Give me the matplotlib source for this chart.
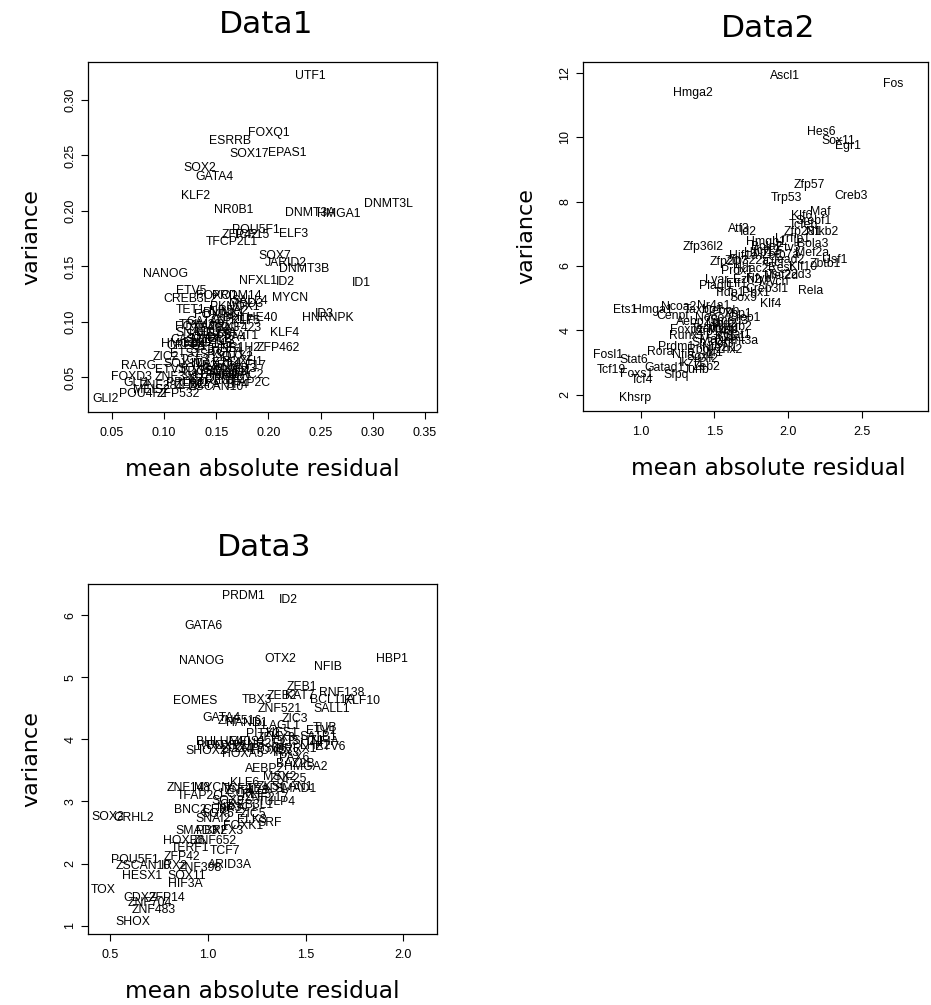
import matplotlib
matplotlib.use("Agg")
import matplotlib.pyplot as plt

# Data1: gene labels with (mean absolute residual, variance)
d1_genes = ["UTF1", "FOXQ1", "ESRRB", "SOX17", "EPAS1", "SOX2", "GATA4", "KLF2", "NR0B1",
            "DNMT3A", "HMGA1", "DNMT3L", "POU5F1", "ZFP42", "TCF15", "ELF3", "TFCP2L1", "SOX7",
            "JARID2", "DNMT3B", "NANOG", "NFXL1", "ID2", "ID1", "ETV5", "MYCN", "CREB3L2",
            "FOXO1", "PRDM14", "SALL4", "TET1", "PKNOX1", "MBD3", "RUNX1", "BHLHE40", "ID3",
            "HNRNPK", "KLF5", "FOXA2", "TBX3", "ZNF423", "KLF4", "ZFP462", "STAT1", "NR1H2",
            "CASZ1", "CREB1", "ZIC2", "RARG", "ETV1", "FOXD3", "GLI1", "ZNF281", "MEIS2",
            "ZEB2", "POU4F2", "ZFP532", "GLI2",
            "SP1", "SP3", "YY1", "MAX", "E2F1", "E2F4", "TCF3", "TCF7L1", "ZNF143", "ZIC3",
            "SALL1", "LIN28A", "DPPA4", "TDGF1", "LEFTY1", "SMAD2", "SMAD3", "CTCF", "REST",
            "MYC", "HDAC2", "SOX3", "SOX11", "ETS1", "ELK1", "TEAD4", "HES1", "OTX2", "FOXH1",
            "KLF17", "ZNF398", "PRDM1", "NFYA", "ZSCAN10", "SP4", "TFAP2C", "GATA6", "FOXP1",
            "ZNF217", "NR5A2", "TRIM28", "SNAI1", "HMGB2", "MYBL2", "TSC22D1", "NFKB1"]
d1_x = [0.240, 0.2005, 0.163, 0.181, 0.2175, 0.134, 0.148, 0.1305, 0.167,
        0.240, 0.267, 0.315, 0.188, 0.173, 0.184, 0.224, 0.165, 0.206,
        0.2165, 0.234, 0.101, 0.190, 0.216, 0.289, 0.126, 0.221, 0.125,
        0.150, 0.170, 0.182, 0.125, 0.168, 0.178, 0.157, 0.182, 0.254,
        0.257, 0.178, 0.130, 0.158, 0.172, 0.215, 0.209, 0.173, 0.173,
        0.125, 0.122, 0.102, 0.075, 0.106, 0.069, 0.074, 0.098, 0.088,
        0.125, 0.080, 0.114, 0.044,
        0.135, 0.145, 0.155, 0.140, 0.150, 0.160, 0.130, 0.165, 0.145, 0.155,
        0.138, 0.150, 0.160, 0.135, 0.150, 0.160, 0.168, 0.140, 0.155,
        0.165, 0.175, 0.128, 0.118, 0.120, 0.132, 0.145, 0.160, 0.170, 0.175,
        0.180, 0.112, 0.122, 0.138, 0.150, 0.170, 0.180, 0.140, 0.148,
        0.165, 0.162, 0.135, 0.128, 0.118, 0.145, 0.158, 0.165]
d1_y = [0.322, 0.270, 0.263, 0.2513, 0.2525, 0.2385, 0.231, 0.2138, 0.201,
        0.198, 0.197, 0.2063, 0.183, 0.1784, 0.1784, 0.179, 0.1718, 0.1595,
        0.153, 0.1477, 0.1432, 0.1369, 0.1358, 0.1349, 0.1282, 0.1219, 0.1205,
        0.1235, 0.1235, 0.119, 0.1108, 0.1138, 0.116, 0.1078, 0.1039, 0.107,
        0.1033, 0.1012, 0.0958, 0.0943, 0.0945, 0.0898, 0.0768, 0.0874, 0.0768,
        0.0838, 0.0787, 0.0682, 0.0604, 0.0568, 0.0502, 0.0453, 0.0423, 0.0387,
        0.0432, 0.0351, 0.0351, 0.0306,
        0.075, 0.070, 0.068, 0.062, 0.060, 0.063, 0.066, 0.072, 0.080, 0.083,
        0.088, 0.090, 0.086, 0.055, 0.052, 0.055, 0.058, 0.049, 0.047,
        0.048, 0.052, 0.058, 0.062, 0.071, 0.081, 0.094, 0.076, 0.068, 0.064,
        0.060, 0.050, 0.045, 0.043, 0.041, 0.043, 0.045, 0.100, 0.106,
        0.102, 0.110, 0.097, 0.090, 0.080, 0.085, 0.056, 0.050]

# Data2
d2_genes = ["Ascl1", "Fos", "Hmga2", "Hes6", "Sox11", "Egr1", "Zfp57", "Trp53", "Creb3",
            "Maf", "Klf6", "Srebf1", "Tcfeb", "Zfp281", "Nfkb2", "Atf3", "Id2", "Zfp36l2",
            "Lrrfip1", "Bola3", "Bola2", "Hbp1", "Mef2a", "Usf1", "Tsc22d3", "Prdx1", "Ezh2",
            "Lyar", "Plagl1", "Creb3l1", "Rela", "Tfdp1", "Sox9", "Klf4", "Ets1", "Hmga1",
            "Ncoa2", "Nr4a1", "Cenpt", "Taxbp1", "Cebpb", "Nono", "Creb1", "Aebp2",
            "Fosl1", "Stat6", "Tcf19", "Foxs1", "Tcf4", "Gatad1", "Junb", "Sfpq", "Khsrp",
            "Rora", "Zeb2", "Nfia", "Sox4", "Prdm1", "Runx1", "Stat1", "Dnmt3a", "Foxp1",
            "Nfe2l1", "Hmgb2", "Mbd2", "Smad3", "Tead1", "Zfp148", "Yy1", "Max", "Sp3",
            "Tcf3", "Rbpj", "Irf1", "Zhx2", "Gli2", "Ikzf1", "Hdac2", "Ctcf", "Rest",
            "Tead2", "Zbtb7a", "Hif1a", "Nfyb", "Mycn", "Elf1", "Pbx1", "Mef2d", "Tcf12",
            "Zfp322a", "Zfp207", "Klf10", "Zbtb1", "Etv5", "Hmgb1", "Xbp1", "Mxd4", "Cux1"]
d2_x = [1.979, 2.714, 1.357, 2.228, 2.341, 2.408, 2.144, 1.990, 2.427,
        2.216, 2.092, 2.170, 2.103, 2.103, 2.230, 1.669, 1.730, 1.425,
        2.030, 2.170, 1.855, 1.798, 2.160, 2.320, 2.010, 1.651, 1.719,
        1.516, 1.516, 1.855, 2.153, 1.606, 1.700, 1.882, 0.893, 1.086,
        1.255, 1.493, 1.221, 1.425, 1.550, 1.470, 1.700, 1.357,
        0.780, 0.950, 0.803, 0.973, 1.007, 1.165, 1.380, 1.244, 0.961,
        1.131, 1.448, 1.289, 1.402, 1.244, 1.312, 1.651, 1.651, 1.312,
        1.538, 1.620, 1.550, 1.600, 1.450, 1.500, 1.580, 1.480, 1.420,
        1.560, 1.400, 1.500, 1.600, 1.450, 1.350, 1.750, 1.900, 1.950,
        2.000, 1.950, 1.700, 1.800, 1.900, 1.650, 1.780, 1.950, 1.850,
        1.720, 1.600, 2.100, 2.250, 2.000, 1.850, 1.660, 1.560, 1.620]
d2_y = [11.91, 11.65, 11.36, 10.17, 9.88, 9.73, 8.52, 8.12, 8.16,
        7.69, 7.56, 7.41, 7.28, 7.04, 7.04, 7.14, 7.05, 6.60,
        6.83, 6.69, 6.59, 6.40, 6.40, 6.20, 5.73, 5.83, 5.57,
        5.57, 5.39, 5.28, 5.21, 5.16, 5.00, 4.83, 4.64, 4.64,
        4.74, 4.77, 4.46, 4.64, 4.60, 4.38, 4.38, 4.25,
        3.25, 3.09, 2.78, 2.66, 2.47, 2.83, 2.78, 2.63, 1.90,
        3.32, 2.88, 3.25, 3.19, 3.50, 3.84, 3.87, 3.66, 4.02,
        3.45, 4.10, 4.20, 4.30, 4.05, 3.95, 3.80, 3.70, 3.60,
        3.58, 3.40, 3.30, 3.40, 3.10, 3.00, 5.90, 6.10, 5.95,
        6.20, 6.35, 6.30, 5.60, 5.50, 5.45, 5.15, 5.70, 6.45,
        6.15, 6.12, 5.98, 6.05, 6.55, 6.75, 4.50, 4.00, 3.75]

# Data3
d3_genes = ["PRDM1", "ID2", "GATA6", "NANOG", "OTX2", "NFIB", "HBP1", "ZEB1", "RNF138",
            "KLF10", "BCL11A", "SALL1", "ZNF521", "TBX3", "ZEB2", "KAT7", "EOMES", "GATA4",
            "ZNF516", "ZIC3", "HAND1", "PLAGL1", "TUB", "ETV1", "PITX2", "HES1", "SATB1",
            "ETV6", "SHOX2", "BHLHE40", "HOXA5", "HOXB7", "IRX3", "PAX6", "BAZ2B", "AEBP2",
            "MSX2", "ZNF25", "ZKSCAN1", "SMAD1", "KLF6", "ZNF148", "MYCN", "TFAP2C", "TULP4",
            "BNC2", "CEBPZ", "ZIC5", "SNAI2", "FOXK1", "ELK3", "SRF", "SMAD3", "PBX2", "RFX3",
            "HOXB6", "ZNF652", "TERF1", "TCF7", "POU5F1", "ZFP42", "ZSCAN10", "IRX2",
            "ARID3A", "ZNF398", "HESX1", "SOX11", "HIF3A", "TOX", "CDX2", "ZFP14", "ZNF704",
            "ZNF483", "SHOX", "SOX2", "GRHL2",
            "KLF5", "ZNF217", "SOX9", "LCOR", "ZNF423", "TEAD1", "FOXP1", "MEIS1", "NR2F2",
            "GLI3", "PRRX1", "TSHZ1", "ZFHX3", "RUNX1", "SOX4", "ZNF536", "LHX2", "NFIA",
            "HMGA2", "TCF4", "CREB3L1", "SOX5", "NR3C1"]
d3_x = [1.181, 1.412, 0.977, 0.969, 1.369, 1.616, 1.940, 1.480, 1.685,
        1.787, 1.634, 1.634, 1.369, 1.250, 1.380, 1.470, 0.935, 1.071,
        1.165, 1.446, 1.199, 1.352, 1.599, 1.580, 1.284, 1.380, 1.565,
        1.625, 0.994, 1.079, 1.181, 1.327, 1.400, 1.440, 1.446, 1.292,
        1.369, 1.410, 1.395, 1.450, 1.190, 0.900, 1.020, 0.960, 1.352,
        0.909, 1.079, 1.233, 1.028, 1.181, 1.224, 1.318, 0.943, 1.020, 1.100,
        0.875, 1.037, 0.909, 1.088, 0.628, 0.867, 0.670, 0.830,
        1.113, 0.960, 0.662, 0.892, 0.883, 0.466, 0.653, 0.790, 0.704,
        0.721, 0.619, 0.491, 0.619,
        1.250, 1.300, 1.100, 1.150, 1.200, 1.300, 1.100, 1.200, 1.300,
        1.400, 1.450, 1.500, 1.350, 1.050, 1.150, 1.250, 1.550, 1.600,
        1.500, 1.150, 1.200, 1.050, 1.150]
d3_y = [6.305, 6.25, 5.83, 5.26, 5.29, 5.17, 5.29, 4.85, 4.75,
        4.62, 4.63, 4.48, 4.48, 4.63, 4.69, 4.69, 4.62, 4.35,
        4.30, 4.32, 4.26, 4.21, 4.19, 4.13, 4.08, 4.10, 4.03,
        3.88, 3.81, 3.96, 3.76, 3.81, 3.78, 3.70, 3.61, 3.53,
        3.40, 3.36, 3.23, 3.20, 3.29, 3.22, 3.22, 3.08, 2.99,
        2.87, 2.86, 2.80, 2.71, 2.61, 2.70, 2.66, 2.52, 2.53, 2.52,
        2.36, 2.36, 2.25, 2.20, 2.06, 2.10, 1.96, 1.96,
        1.98, 1.93, 1.80, 1.80, 1.67, 1.57, 1.45, 1.45, 1.37,
        1.26, 1.06, 2.75, 2.73,
        3.10, 3.05, 3.00, 3.12, 3.17, 3.20, 3.90, 3.95, 3.92,
        3.95, 3.85, 3.98, 4.02, 3.90, 3.85, 3.85, 3.90, 3.95,
        3.55, 3.20, 2.95, 2.80, 2.90]

W, H = 931, 1005
fig = plt.figure(figsize=(W / 100, H / 100), dpi=100)
fig.patch.set_facecolor("white")

GENE_FONT = "Liberation Sans"
TITLE_FONT = "DejaVu Sans"


def panel(box, title, title_xy, xlab_x, genes, xs, ys, xlim, ylim, xticks, xfmt, yticks, yfmt):
    l, t, r, b = box
    ax = fig.add_axes([l / W, 1 - b / H, (r - l) / W, (b - t) / H])
    for g, x, y in zip(genes, xs, ys):
        ax.text(x, y, g, ha="center", va="center", fontsize=8.8, family=GENE_FONT, color="black")
    ax.set_xlim(*xlim)
    ax.set_ylim(*ylim)
    ax.set_xticks(xticks)
    ax.set_xticklabels([xfmt.format(v) for v in xticks], family=GENE_FONT, fontsize=9)
    ax.set_yticks(yticks)
    ax.set_yticklabels([yfmt.format(v) for v in yticks], family=GENE_FONT, fontsize=9,
                       rotation=90, va="center")
    ax.tick_params(axis="x", length=5, width=0.8, pad=6)
    ax.tick_params(axis="y", length=5, width=0.8, pad=3.5)
    for s in ax.spines.values():
        s.set_linewidth(0.9)

    # titles and axis labels placed like the R device output
    fig.text(title_xy[0] / W, 1 - title_xy[1] / H, title, ha="center", va="baseline",
             fontsize=22.5, family=TITLE_FONT)
    fig.text(xlab_x / W, 1 - (b + 64) / H, "mean absolute residual", ha="center",
             va="baseline", fontsize=16.8, family=TITLE_FONT)
    fig.text((l - 51) / W, 1 - ((t + b) / 2) / H, "variance", rotation=90,
             rotation_mode="anchor", ha="center", va="baseline", fontsize=16,
             family=TITLE_FONT)
    return ax


panel((88, 62, 437, 412), "Data1", (266, 33), 262, d1_genes, d1_x, d1_y,
      (0.027, 0.3615), (0.0189, 0.3342),
      [0.05, 0.10, 0.15, 0.20, 0.25, 0.30, 0.35], "{:.2f}",
      [0.05, 0.10, 0.15, 0.20, 0.25, 0.30], "{:.2f}")

panel((583, 62, 928, 411), "Data2", (768, 37), 768, d2_genes, d2_x, d2_y,
      (0.609, 2.95), (1.50, 12.33),
      [1.0, 1.5, 2.0, 2.5], "{:.1f}",
      [2, 4, 6, 8, 10, 12], "{:d}")

panel((88, 584, 437, 934), "Data3", (264, 556), 262, d3_genes, d3_x, d3_y,
      (0.3875, 2.172), (0.866, 6.50),
      [0.5, 1.0, 1.5, 2.0], "{:.1f}",
      [1, 2, 3, 4, 5, 6], "{:d}")

plt.savefig("out.png", dpi=100)
